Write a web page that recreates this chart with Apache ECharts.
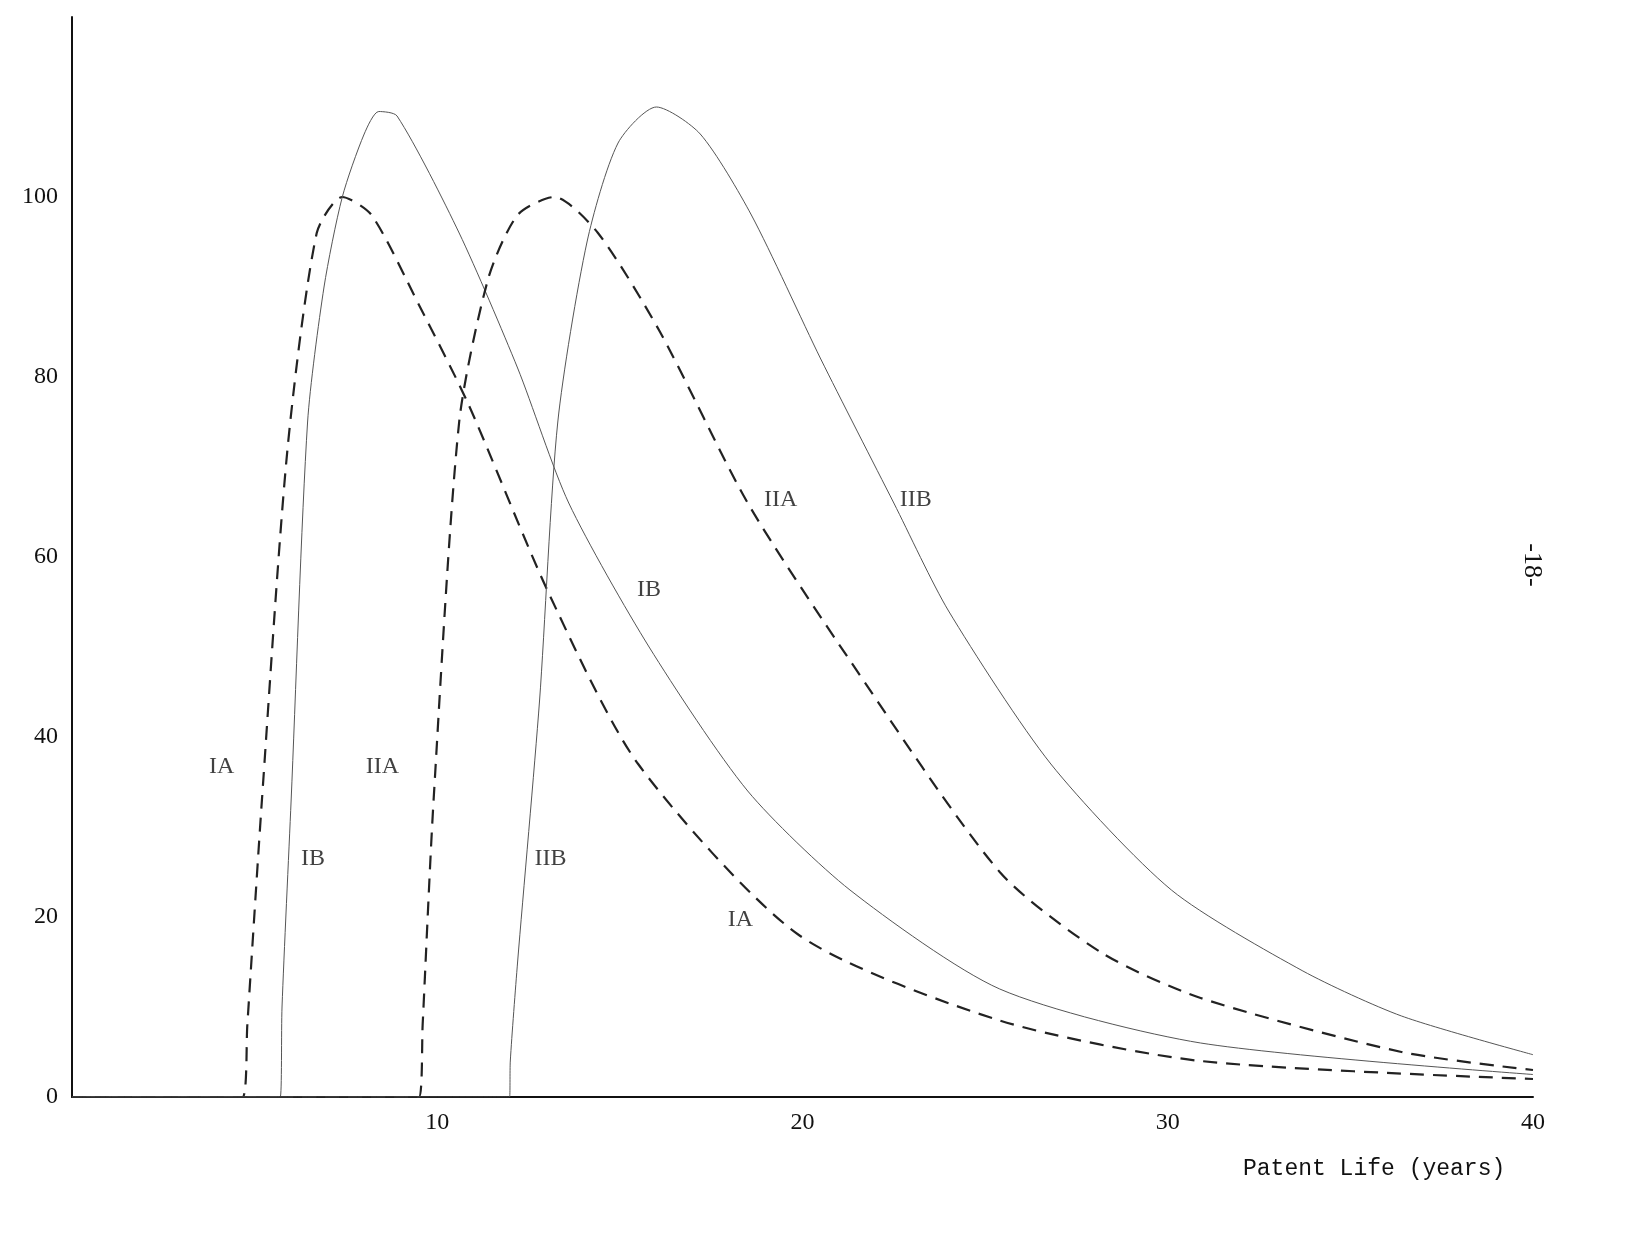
<!DOCTYPE html>
<html>
<head>
<meta charset="utf-8">
<script src="https://cdn.jsdelivr.net/npm/echarts@6/dist/echarts.min.js"></script>
<style>html,body{margin:0;background:#fff}#c{width:1648px;height:1246px}</style>
</head>
<body>
<div id="c"></div>
<script>
// [year, value]
const curveIA = [[0,0],[4.67,0],[4.8,8],[5.2,33],[5.9,72],[6.7,96],[7.4,100],[8.2,98],[9.5,88],[10.85,77],[13.05,56],[15.5,37],[19.9,18],[25.4,8.5],[30.9,4],[40,2]];
const curveIB = [[0,0],[5.7,0],[5.75,10],[6.0,33],[6.45,75],[6.9,90],[7.4,100],[8.0,107],[8.4,109.5],[8.9,109],[10.6,96],[12.2,81],[13.6,66],[15.8,50],[18.5,34],[21.3,23],[25.4,12],[30.9,6],[40,2.5]];
const curveIIA = [[0,0],[9.5,0],[9.6,8],[9.9,33],[10.6,75],[11.4,91],[12.2,98],[13.2,100],[14.4,96],[16.1,85],[18.5,66],[21.3,48.5],[25.4,25],[28.2,16],[30.9,11],[36.4,5],[40,3]];
const curveIIB = [[0,0],[11.98,0],[12.0,4],[12.2,15],[12.8,44],[13.3,75],[14.1,95],[14.95,106],[16.0,110],[17.2,107],[18.6,98],[20.5,82],[22.5,66],[24.0,54],[26.8,37],[30.1,23],[33.7,14],[36.4,9],[40,4.7]];
const curveLabels = [
  ['IA',4.1,36.7],['IB',6.6,26.5],['IIA',8.5,36.7],['IIB',13.1,26.5],
  ['IIA',19.4,66.4],['IIB',23.1,66.4],['IB',15.8,56.4],['IA',18.3,19.7]
];
const yTicks = [0,20,40,60,80,100];
const xTicks = [10,20,30,40];

const serif = 'Liberation Serif';
const chart = echarts.init(document.getElementById('c'));
const line = (data, type, width, color) => ({
  type: 'line', data: data, smooth: 0.25, symbol: 'none',
  lineStyle: {color: color, width: width, type: type}
});
chart.setOption({
  animation: false,
  backgroundColor: '#fff',
  grid: {left: 72, right: 115, top: 17, bottom: 149},
  xAxis: {
    type: 'value', min: 0, max: 40, interval: 10,
    axisLine: {lineStyle: {color: '#111', width: 2}},
    axisTick: {show: false}, splitLine: {show: false},
    axisLabel: {fontFamily: serif, fontSize: 24, color: '#111', margin: 14,
      formatter: v => xTicks.includes(v) ? String(v) : ''}
  },
  yAxis: {
    type: 'value', min: 0, max: 120, interval: 20,
    axisLine: {show: true, lineStyle: {color: '#111', width: 2}},
    axisTick: {show: false}, splitLine: {show: false},
    axisLabel: {fontFamily: serif, fontSize: 24, color: '#111', margin: 14,
      formatter: v => yTicks.includes(v) ? String(v) : ''}
  },
  series: [
    line(curveIA, [14, 9], 2.2, '#222'),
    line(curveIB, 'solid', 1, '#555'),
    line(curveIIA, [14, 9], 2.2, '#222'),
    line(curveIIB, 'solid', 1, '#555'),
    {
      type: 'scatter', symbolSize: 0,
      data: curveLabels.map(d => ({value: [d[1], d[2]], name: d[0]})),
      label: {show: true, position: 'inside', formatter: p => p.name,
        fontFamily: serif, fontSize: 24, color: '#111'}
    }
  ],
  graphic: [
    {type: 'text', left: 1243, top: 1157, style: {text: 'Patent Life (years)',
      font: '23px "Liberation Mono"', fill: '#111'}},
    {type: 'text', x: 1532, y: 565, rotation: -Math.PI / 2, style: {text: '-18-',
      font: '26px "Liberation Serif"', fill: '#111', align: 'center', verticalAlign: 'middle'}}
  ]
});
</script>
</body>
</html>
